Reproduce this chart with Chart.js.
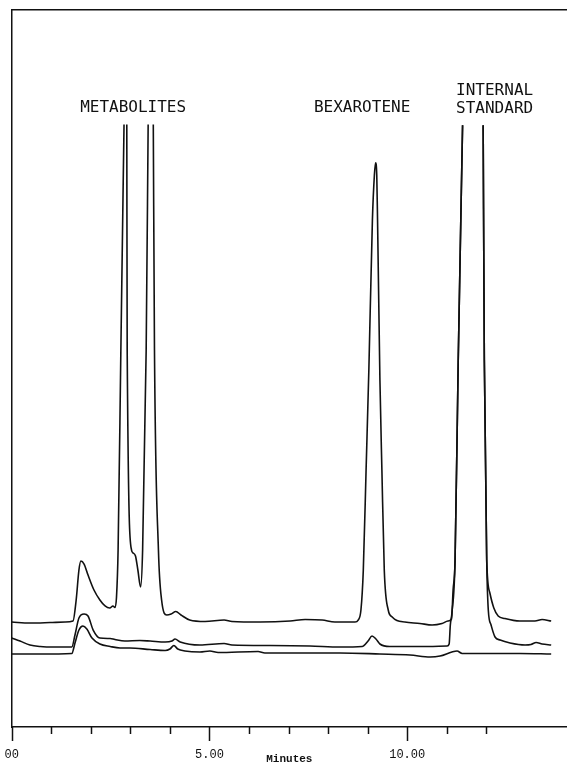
<!DOCTYPE html>
<html>
<head>
<meta charset="utf-8">
<script src="https://cdn.jsdelivr.net/npm/chart.js@4.4.1/dist/chart.umd.min.js"></script>
<style>
  html, body { margin: 0; padding: 0; background: #fff; }
  #wrap { width: 567px; height: 765px; }
</style>
</head>
<body>
<div id="wrap"><canvas id="chromatogram"></canvas></div>
<script>
//Top trace (sample) - retention time in minutes and detector response
const sampleMinutes = [0.0, 0.46, 0.97, 1.35, 1.55, 1.63, 1.70, 1.75, 1.83, 1.93, 2.08, 2.23, 2.36, 2.48, 2.56, 2.61, 2.65, 2.69, 2.76, 2.84, 2.875, 2.91, 2.92, 3.03, 3.07, 3.13, 3.19, 3.26, 3.31, 3.40, 3.45, 3.52, 3.58, 3.61, 3.71, 3.79, 3.92, 4.03, 4.15, 4.28, 4.50, 4.89, 5.37, 5.57, 6.28, 7.04, 7.42, 7.85, 8.17, 8.68, 8.76, 8.83, 8.89, 8.96, 9.03, 9.12, 9.17, 9.20, 9.23, 9.25, 9.31, 9.36, 9.42, 9.52, 9.62, 9.74, 9.94, 10.32, 10.63, 10.88, 11.03, 11.12, 11.16, 11.21, 11.29, 11.40, 11.66, 11.92, 11.95, 12.01, 12.09, 12.19, 12.30, 12.47, 12.85, 13.23, 13.41, 13.64];
const sampleResponse = [14.58, 14.44, 14.51, 14.58, 14.72, 17.64, 21.81, 23.06, 22.64, 21.11, 19.03, 17.64, 16.81, 16.53, 16.81, 16.6, 18.06, 24.58, 52.36, 83.7, null, 83.7, 52.36, 24.58, 24.17, 23.75, 21.81, 19.44, 24.58, 52.36, 83.7, null, 83.7, 52.36, 24.58, 17.64, 15.56, 15.69, 16.04, 15.56, 14.86, 14.65, 14.86, 14.65, 14.58, 14.72, 14.93, 14.86, 14.58, 14.58, 14.86, 16.25, 21.81, 35.69, 49.58, 70.42, 76.67, 78.38, 76.67, 70.42, 48.19, 35.69, 21.81, 16.25, 15.28, 14.79, 14.58, 14.38, 14.17, 14.38, 14.72, 15.0, 19.03, 23.19, 50.97, 83.6, null, 83.6, 50.97, 23.19, 18.61, 16.53, 15.42, 15.07, 14.72, 14.72, 14.93, 14.72];

//Middle trace
const middleMinutes = [0.0, 0.21, 0.46, 0.72, 1.09, 1.52, 1.60, 1.70, 1.83, 1.93, 2.06, 2.23, 2.49, 2.61, 2.86, 3.24, 3.50, 3.88, 4.05, 4.13, 4.26, 4.76, 5.37, 5.57, 6.53, 7.54, 8.30, 8.86, 9.01, 9.11, 9.21, 9.31, 9.56, 10.32, 11.01, 11.06, 11.09, 11.13, 11.21, 11.29, 11.40, 11.66, 11.92, 11.95, 12.01, 12.05, 12.12, 12.22, 12.35, 12.60, 12.98, 13.13, 13.26, 13.41, 13.64];
const middleResponse = [12.36, 11.94, 11.39, 11.18, 11.11, 11.11, 12.78, 15.14, 15.69, 15.42, 13.47, 12.36, 12.29, 12.15, 11.94, 12.01, 11.94, 11.81, 11.94, 12.22, 11.81, 11.39, 11.6, 11.39, 11.32, 11.25, 11.11, 11.18, 11.94, 12.64, 12.22, 11.53, 11.18, 11.18, 11.25, 11.53, 14.17, 15.83, 23.19, 50.97, 83.6, null, 83.6, 50.97, 23.19, 16.25, 14.17, 12.5, 12.08, 11.67, 11.39, 11.46, 11.74, 11.53, 11.39];

//Bottom trace (blank)
const blankMinutes = [0.0, 0.72, 1.52, 1.60, 1.70, 1.80, 1.90, 2.03, 2.23, 2.49, 2.74, 2.99, 3.50, 3.88, 4.00, 4.10, 4.20, 4.38, 4.76, 5.01, 5.22, 6.23, 6.40, 7.29, 8.30, 9.31, 10.07, 10.58, 10.83, 11.13, 11.26, 11.39, 11.84, 12.85, 13.64];
const blankResponse = [10.14, 10.14, 10.21, 11.67, 13.47, 14.03, 13.61, 12.36, 11.53, 11.18, 10.97, 10.97, 10.76, 10.63, 10.83, 11.32, 10.83, 10.56, 10.42, 10.56, 10.35, 10.49, 10.28, 10.28, 10.28, 10.14, 10.0, 9.72, 9.86, 10.42, 10.56, 10.21, 10.21, 10.21, 10.14];

//Peak names printed above the peaks
const peakLabels = ["METABOLITES", "BEXAROTENE", "INTERNAL", "STANDARD"];
const peakLabelMinutes = [3.07, 8.86, 12.21, 12.21];
const peakLabelResponse = [86.0, 86.0, 88.4, 85.8];

//Minute tick marks on the time axis
const minuteTicks = [0, 1, 2, 3, 4, 5, 6, 7, 8, 9, 10, 11, 12];

const toPoints = (times, values) => times.map((t, i) => ({ x: t, y: values[i] }));

const ink = "#111";

//Draws the tick marks below the axis (longer at 5 min steps) and the peak names
const chromPlugin = {
  id: "chrom",
  afterDraw(chart) {
    const ctx = chart.ctx;
    const xs = chart.scales.x;
    const ys = chart.scales.y;
    ctx.save();
    ctx.strokeStyle = ink;
    ctx.lineWidth = 1.5;
    xs.ticks.forEach((tick) => {
      const px = Math.round(xs.getPixelForValue(tick.value)) + 0.5;
      const len = tick.value % 5 === 0 ? 14 : 7;
      ctx.beginPath();
      ctx.moveTo(px, xs.top);
      ctx.lineTo(px, xs.top + len);
      ctx.stroke();
    });
    ctx.fillStyle = ink;
    ctx.font = '16px "DejaVu Sans Mono"';
    ctx.textAlign = "center";
    ctx.textBaseline = "middle";
    peakLabels.forEach((label, i) => {
      ctx.fillText(label, xs.getPixelForValue(peakLabelMinutes[i]), ys.getPixelForValue(peakLabelResponse[i]));
    });
    ctx.restore();
  },
};

const lineStyle = {
  borderColor: ink,
  borderWidth: 1.6,
  pointRadius: 0,
  fill: false,
  spanGaps: false,
  cubicInterpolationMode: "monotone",
};

new Chart(document.getElementById("chromatogram"), {
  type: "line",
  plugins: [chromPlugin],
  data: {
    datasets: [
      { ...lineStyle, label: "Sample", data: toPoints(sampleMinutes, sampleResponse) },
      { ...lineStyle, label: "Middle", data: toPoints(middleMinutes, middleResponse) },
      { ...lineStyle, label: "Blank", data: toPoints(blankMinutes, blankResponse) },
    ],
  },
  options: {
    responsive: true,
    maintainAspectRatio: false,
    animation: false,
    devicePixelRatio: 1,
    layout: { padding: 0 },
    plugins: {
      legend: { display: false },
      tooltip: { enabled: false },
    },
    scales: {
      x: {
        type: "linear",
        position: "bottom",
        min: 0,
        max: 14.04,
        afterBuildTicks: (scale) => {
          scale.ticks = minuteTicks.map((v) => ({ value: v }));
        },
        afterFit: (scale) => {
          scale.height = 38;
          scale.paddingLeft = 0;
          scale.paddingRight = 0;
        },
        grid: { display: false },
        border: { display: true, color: ink, width: 1.5 },
        ticks: {
          autoSkip: false,
          maxRotation: 0,
          padding: 13,
          color: ink,
          font: { family: "Liberation Mono", size: 12 },
          callback: (v) => (v === 0 ? "00" : v % 5 === 0 ? v.toFixed(2) : ""),
        },
        title: {
          display: true,
          text: "Minutes",
          color: ink,
          font: { family: "Liberation Mono", size: 11, weight: "bold", lineHeight: 1 },
          padding: { top: 0, bottom: 0 },
        },
      },
      x2: {
        type: "linear",
        position: "top",
        min: 0,
        max: 14.04,
        afterFit: (scale) => {
          scale.height = 10;
          scale.paddingLeft = 0;
          scale.paddingRight = 0;
        },
        grid: { display: false },
        ticks: { display: false },
        border: { display: true, color: ink, width: 1.5 },
      },
      y: {
        type: "linear",
        min: 0,
        max: 99.6,
        afterFit: (scale) => {
          scale.width = 11.7;
        },
        grid: { display: false },
        ticks: { display: false },
        border: { display: true, color: ink, width: 1.5 },
      },
    },
  },
});
</script>
</body>
</html>
